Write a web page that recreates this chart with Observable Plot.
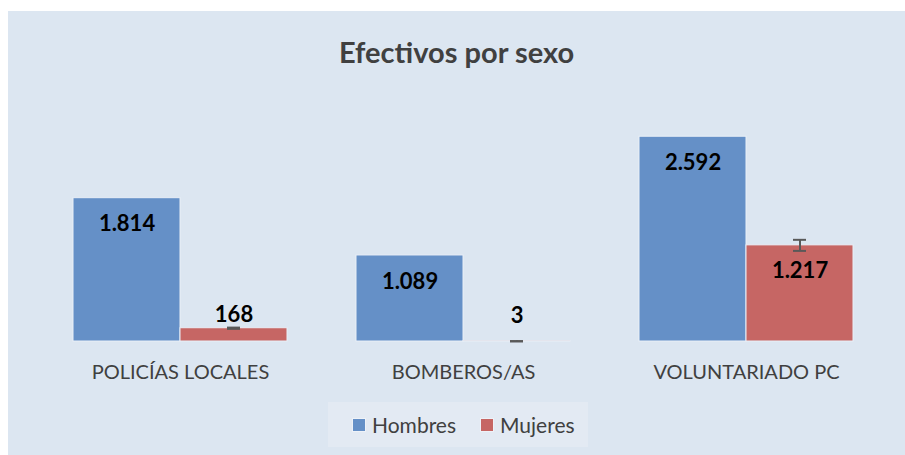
<!DOCTYPE html>
<html>
<head>
<meta charset="utf-8">
<script src="https://cdn.jsdelivr.net/npm/d3@7"></script>
<script src="https://cdn.jsdelivr.net/npm/@observablehq/plot@0.6"></script>
<style>
  html, body { margin: 0; padding: 0; background: #ffffff; }
  #card { position: absolute; left: 8px; top: 11px; width: 897px; height: 444px; background: #dce6f1; font-family: Lato, "Open Sans", sans-serif; }
  #title { height: 82px; line-height: 82px; text-align: center; font-weight: bold; font-size: 29px; color: #404040; }
  #chart { height: 302px; }
  #legend { position: absolute; left: 320px; top: 391px; width: 260px; height: 45px; background: #e3eaf3; display: flex; align-items: center; justify-content: flex-start; box-sizing: border-box; padding-left: 24px; gap: 24px; font-size: 21px; color: #404040; }
  .item { display: flex; align-items: center; gap: 6px; }
  .sw { width: 12px; height: 12px; border: 1px solid #eef2f8; }
</style>
</head>
<body>
<div id="card">
  <div id="title">Efectivos por sexo</div>
  <div id="chart"></div>
  <div id="legend"></div>
</div>
<script>
const categorias = ["POLICÍAS LOCALES", "BOMBEROS/AS", "VOLUNTARIADO PC"];
const series = ["Hombres", "Mujeres"];
const hombres = [1814, 1089, 2592];
const mujeres = [168, 3, 1217];
const errorMujeres = [8, 2, 70];
const colores = ["#6590c7", "#c66664"];

const fmt = v => d3.format(",")(v).replace(/,/g, ".");

const data = [];
categorias.forEach((c, i) => {
  data.push({cat: c, serie: "Hombres", valor: hombres[i]});
  data.push({cat: c, serie: "Mujeres", valor: mujeres[i]});
});
const err = categorias.map((c, i) => ({cat: c, serie: "Mujeres", valor: mujeres[i], lo: mujeres[i] - errorMujeres[i], hi: mujeres[i] + errorMujeres[i]}));
const inside = data.filter(d => d.valor >= 500);
const above = data.filter(d => d.valor < 500);

const chart = Plot.plot({
  width: 897,
  height: 302,
  marginLeft: 30,
  marginRight: 18,
  marginTop: 11,
  marginBottom: 54,
  style: {background: "transparent", fontFamily: "Lato, 'Open Sans', sans-serif", fontSize: "20px", color: "#404040"},
  fx: {domain: categorias, paddingInner: 0.244, paddingOuter: 0.122, label: null, axis: "bottom", tickSize: 0, tickPadding: 23},
  x: {domain: series, padding: 0, axis: null},
  y: {domain: [0, 3000], axis: null},
  color: {domain: series, range: colores},
  marks: [
    Plot.barY(data, {fx: "cat", x: "serie", y: "valor", fill: "serie", stroke: "#e9eff7", strokeWidth: 1}),
    Plot.ruleX(err, {fx: "cat", x: "serie", y1: "lo", y2: "hi", stroke: "#595959", strokeWidth: 2}),
    Plot.tickY(err, {fx: "cat", x: "serie", y: "lo", stroke: "#595959", strokeWidth: 2, insetLeft: 47, insetRight: 47}),
    Plot.tickY(err, {fx: "cat", x: "serie", y: "hi", stroke: "#595959", strokeWidth: 2, insetLeft: 47, insetRight: 47}),
    Plot.text(inside, {fx: "cat", x: "serie", y: "valor", text: d => fmt(d.valor), dy: 26, fill: "#000000", fontSize: 22, fontWeight: "bold"}),
    Plot.text(above, {fx: "cat", x: "serie", y: d => Math.max(d.valor, 160), text: d => fmt(d.valor), dy: -13, fill: "#000000", fontSize: 22, fontWeight: "bold"})
  ]
});
document.getElementById("chart").appendChild(chart);

const legend = document.getElementById("legend");
series.forEach((s, i) => {
  const it = document.createElement("div");
  it.className = "item";
  const sw = document.createElement("div");
  sw.className = "sw";
  sw.style.background = colores[i];
  const t = document.createElement("span");
  t.textContent = s;
  it.appendChild(sw);
  it.appendChild(t);
  legend.appendChild(it);
});
</script>
</body>
</html>
